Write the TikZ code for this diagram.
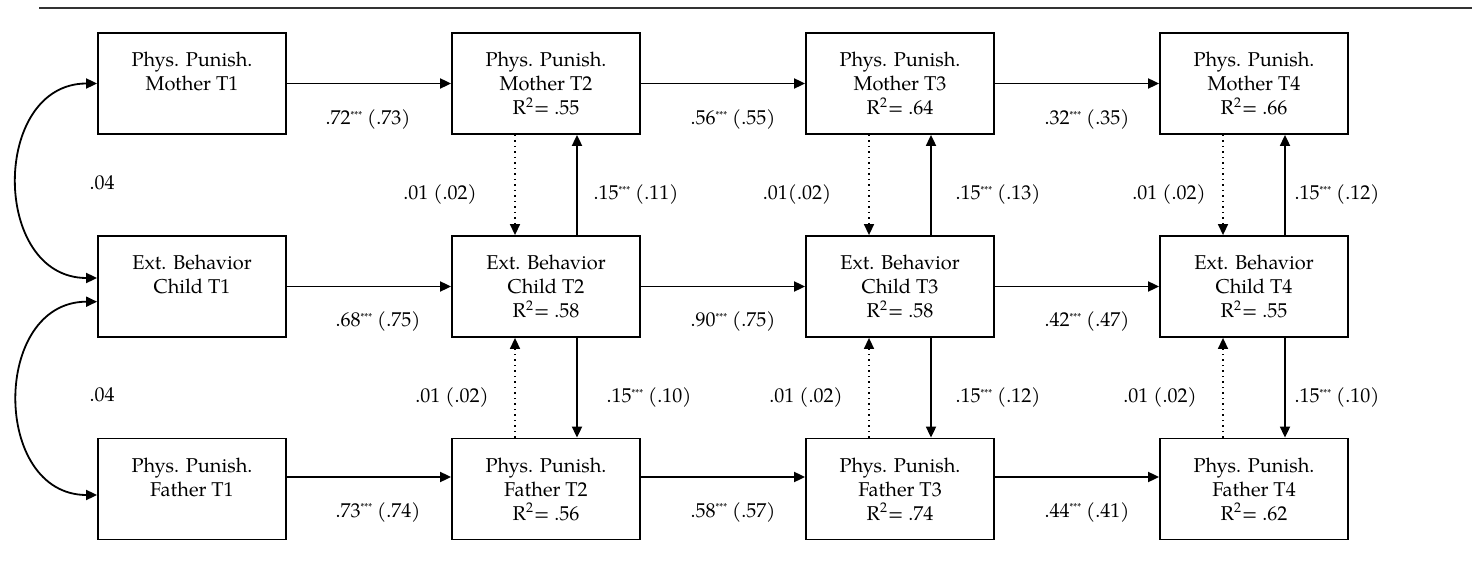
\documentclass[tikz,border=0pt]{standalone}
\usepackage{fontspec}
\setmainfont{TeX Gyre Pagella}
\usetikzlibrary{arrows.meta}

\tikzset{
  box/.style={draw, line width=0.9pt, minimum width=94pt, minimum height=50.5pt,
    inner sep=0pt, align=center, font=\fontsize{10}{12}\selectfont},
  coef/.style={inner sep=0pt, font=\fontsize{10}{12}\selectfont},
  path/.style={line width=0.9pt, -{Triangle[length=5.5pt,width=5pt]}},
  weak/.style={line width=0.75pt, dotted, -{Triangle[length=5.5pt,width=5pt]}},
  cov/.style={line width=0.9pt, {Triangle[length=5.5pt,width=5pt]}-{Triangle[length=5.5pt,width=5pt]}},
}
\newcommand{\sig}{\raisebox{3.1pt}{\fontsize{5}{5}\selectfont***}}
\newcommand{\rsq}[1]{R\textsuperscript{2}= #1}

\begin{document}
\begin{tikzpicture}[x=0.5pt, y=-0.5pt]
\useasboundingbox (0,0) rectangle (1472,582);

% rule above the figure
\coordinate (ruleL) at (39,8);
\coordinate (ruleR) at (1472,8);
\draw[line width=1.1pt, black!80] (ruleL) -- (ruleR);

% mothers' physical punishment
\node[box] (m1) at (192,83.5)  {Phys. Punish.\\Mother T1\\\phantom{R}};
\node[box] (m2) at (546,83.5)  {Phys. Punish.\\Mother T2\\\rsq{.55}};
\node[box] (m3) at (900,83.5)  {Phys. Punish.\\Mother T3\\\rsq{.64}};
\node[box] (m4) at (1254,83.5) {Phys. Punish.\\Mother T4\\\rsq{.66}};

% child externalizing behavior
\node[box] (c1) at (192,286.5)  {Ext. Behavior\\Child T1\\\phantom{R}};
\node[box] (c2) at (546,286.5)  {Ext. Behavior\\Child T2\\\rsq{.58}};
\node[box] (c3) at (900,286.5)  {Ext. Behavior\\Child T3\\\rsq{.58}};
\node[box] (c4) at (1254,286.5) {Ext. Behavior\\Child T4\\\rsq{.55}};

% fathers' physical punishment
\node[box] (f1) at (192,489)  {Phys. Punish.\\Father T1\\\phantom{R}};
\node[box] (f2) at (546,489)  {Phys. Punish.\\Father T2\\\rsq{.56}};
\node[box] (f3) at (900,489)  {Phys. Punish.\\Father T3\\\rsq{.74}};
\node[box] (f4) at (1254,489) {Phys. Punish.\\Father T4\\\rsq{.62}};

% stability paths
\draw[path] (m1.east) -- (m2.west);
\draw[path] (m2.east) -- (m3.west);
\draw[path] (m3.east) -- (m4.west);
\draw[path] (c1.east) -- (c2.west);
\draw[path] (c2.east) -- (c3.west);
\draw[path] (c3.east) -- (c4.west);
\draw[path] ([yshift=6pt]f1.east) -- ([yshift=6pt]f2.west);
\draw[path] ([yshift=6pt]f2.east) -- ([yshift=6pt]f3.west);
\draw[path] ([yshift=6pt]f3.east) -- ([yshift=6pt]f4.west);

% cross-lagged paths
\foreach \p/\c/\f in {m2/c2/f2, m3/c3/f3, m4/c4/f4}{
  \draw[weak] ([xshift=-15.5pt]\p.south) -- ([xshift=-15.5pt]\c.north);
  \draw[path] ([xshift=15.5pt]\c.north) -- ([xshift=15.5pt]\p.south);
  \draw[weak] ([xshift=-15.5pt]\f.north) -- ([xshift=-15.5pt]\c.south);
  \draw[path] ([xshift=15.5pt]\c.south) -- ([xshift=15.5pt]\f.north);
}

% T1 covariances
\draw[cov] (m1.west) to[out=180, in=180, looseness=1.4] ([yshift=4.25pt]c1.west);
\draw[cov] ([yshift=-7.6pt]c1.west) to[out=180, in=180, looseness=1.4] ([yshift=-3pt]f1.west);
\node[coef] (r1) at (102,183) {.04};
\node[coef] (r2) at (102,395) {.04};

% stability coefficients
\node[coef] (sm12) at (368,120)  {.72\sig{} (.73)};
\node[coef] (sm23) at (733,120)  {.56\sig{} (.55)};
\node[coef] (sm34) at (1087,120) {.32\sig{} (.35)};
\node[coef] (sc12) at (378,322)  {.68\sig{} (.75)};
\node[coef] (sc23) at (733,322)  {.90\sig{} (.75)};
\node[coef] (sc34) at (1087,322) {.42\sig{} (.47)};
\node[coef] (sf12) at (378,512)  {.73\sig{} (.74)};
\node[coef] (sf23) at (733,512)  {.58\sig{} (.57)};
\node[coef] (sf34) at (1087,512) {.44\sig{} (.41)};

% cross-lagged coefficients, mothers
\node[coef] (xm2a) at (440,195)  {.01 (.02)};
\node[coef] (xm2b) at (636,195)  {.15\sig{} (.11)};
\node[coef] (xm3a) at (797,195)  {.01(.02)};
\node[coef] (xm3b) at (998,195)  {.15\sig{} (.13)};
\node[coef] (xm4a) at (1169,195) {.01 (.02)};
\node[coef] (xm4b) at (1337,195) {.15\sig{} (.12)};

% cross-lagged coefficients, fathers
\node[coef] (xf2a) at (452,398)  {.01 (.02)};
\node[coef] (xf2b) at (649,398)  {.15\sig{} (.10)};
\node[coef] (xf3a) at (806,398)  {.01 (.02)};
\node[coef] (xf3b) at (998,398)  {.15\sig{} (.12)};
\node[coef] (xf4a) at (1160,398) {.01 (.02)};
\node[coef] (xf4b) at (1337,398) {.15\sig{} (.10)};
\end{tikzpicture}
\end{document}
